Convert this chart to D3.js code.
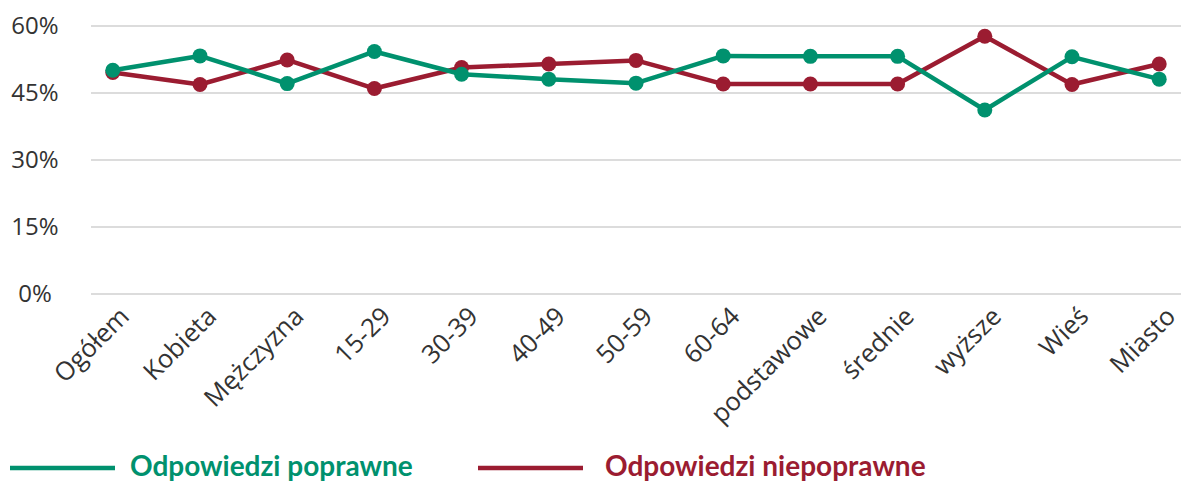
<!DOCTYPE html>
<html><head><meta charset="utf-8">
<script src="https://cdn.jsdelivr.net/npm/d3@7"></script>
<style>body{margin:0;background:#fff}svg{display:block}</style>
</head><body><svg id="c" width="1181" height="481"></svg>
<script>
const categories = ["Ogółem","Kobieta","Mężczyzna","15-29","30-39","40-49","50-59","60-64","podstawowe","średnie","wyższe","Wieś","Miasto"];
const correct = [50.1,53.3,47.1,54.3,49.2,48.1,47.2,53.3,53.2,53.2,41.2,53.1,48.1];
const incorrect = [49.6,46.9,52.4,46.0,50.7,51.5,52.3,47.0,47.0,47.0,57.7,46.9,51.5];
const yTicks = [0,15,30,45,60];
const seriesNames = ["Odpowiedzi poprawne","Odpowiedzi niepoprawne"];
const colors = ["#00916e","#9b1c31"];

const svg = d3.select("#c");
const x = d3.scalePoint().domain(categories).range([91,1181]).padding(0.25);
const y = d3.scaleLinear().domain([0,60]).range([294,26]);

svg.append("g").selectAll("line").data(yTicks).join("line")
  .attr("x1",91).attr("x2",1181).attr("y1",d=>y(d)).attr("y2",d=>y(d))
  .attr("stroke","#dcdcdc").attr("stroke-width",2);
svg.append("g").selectAll("text").data(yTicks).join("text")
  .attr("x",35).attr("y",d=>y(d)+8).attr("text-anchor","middle")
  .attr("font-family","Open Sans").attr("font-size",24).attr("fill","#333")
  .text(d=>d+"%");

svg.append("g").selectAll("text").data(categories).join("text")
  .attr("text-anchor","end")
  .attr("transform",d=>`translate(${x(d)+18},${318}) rotate(-45)`)
  .attr("font-family","Open Sans").attr("font-size",25.5).attr("fill","#333")
  .text(d=>d);

const line = d3.line().x((d,i)=>x(categories[i])).y(d=>y(d));
[incorrect, correct].forEach((vals,k)=>{
  const col = k===0 ? colors[1] : colors[0];
  svg.append("path").datum(vals).attr("d",line).attr("fill","none")
    .attr("stroke",col).attr("stroke-width",4.5).attr("stroke-linejoin","round");
  svg.append("g").selectAll("circle").data(vals).join("circle")
    .attr("cx",(d,i)=>x(categories[i])).attr("cy",d=>y(d)).attr("r",7.5).attr("fill",col);
});

const lg = [{x1:10,x2:115,tx:130},{x1:478,x2:583,tx:605}];
lg.forEach((l,i)=>{
  svg.append("line").attr("x1",l.x1).attr("x2",l.x2).attr("y1",468).attr("y2",468)
    .attr("stroke",colors[i]).attr("stroke-width",4.5);
  svg.append("text").attr("x",l.tx).attr("y",476).attr("font-family","Lato")
    .attr("font-weight","bold").attr("font-size",28).attr("fill",colors[i]).text(seriesNames[i]);
});
</script></body></html>
